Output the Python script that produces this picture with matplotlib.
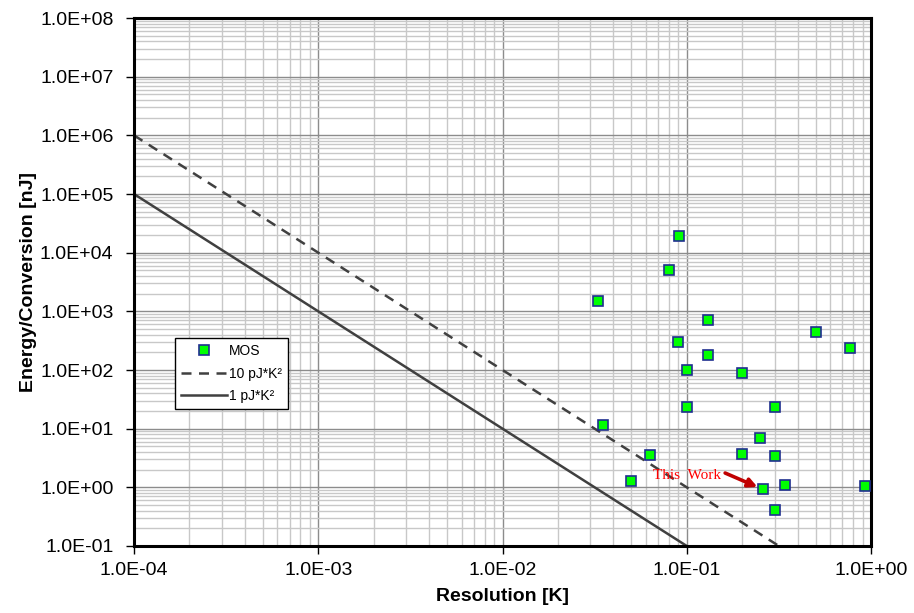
import numpy as np
import matplotlib
matplotlib.use("Agg")
import matplotlib.pyplot as plt
from matplotlib.ticker import LogLocator, FuncFormatter, NullFormatter

plt.rcParams['font.family'] = ['Liberation Sans', 'DejaVu Sans']

# MOS sensor data: resolution [K], energy per conversion [nJ]
resolution = [0.091, 0.08, 0.033, 0.13, 0.5, 0.09, 0.77, 0.13, 0.1, 0.2, 0.1,
              0.3, 0.035, 0.25, 0.063, 0.2, 0.3, 0.05, 0.34, 0.26, 0.93, 0.3]
energy = [19000, 5000, 1500, 700, 450, 300, 240, 180, 100, 90, 23,
          23, 11.5, 7, 3.5, 3.7, 3.4, 1.3, 1.1, 0.93, 1.07, 0.41]

# this work point
this_work = (0.26, 0.93)

# FoM reference lines: E = FoM / res^2  (pJ*K^2 -> nJ)
fom_10 = 10e-3
fom_1 = 1e-3
res_line = np.logspace(-4, 0, 200)

fig = plt.figure(figsize=(9.14, 6.13), dpi=100)
ax = fig.add_axes([0.1466, 0.1093, 0.8064, 0.8613])

ax.set_xscale('log')
ax.set_yscale('log')
ax.set_xlim(1e-4, 1)
ax.set_ylim(1e-1, 1e8)

ax.plot(res_line, fom_10 / res_line**2, color='#404040', lw=1.8, ls=(0, (4, 3)), label='10 pJ*K²')
ax.plot(res_line, fom_1 / res_line**2, color='#404040', lw=1.8, label='1 pJ*K²')
ax.plot(resolution, energy, ls='none', marker='s', ms=7, mfc='#00FF00', mec='#1F2F8F', mew=1.2,
        label='MOS', zorder=5)

# "This Work" label and arrow
ax.text(0.0656, 1.39, 'This  Work', color='#FF0000', fontsize=11, family='Liberation Serif')
ax.annotate('', xy=(this_work[0] * 0.93, this_work[1] * 1.09), xytext=(0.1615, 1.754),
            arrowprops=dict(arrowstyle='-|>', color='#C00000', lw=2.6, mutation_scale=13,
                            shrinkA=0, shrinkB=0))

# grid
ax.xaxis.set_major_locator(LogLocator(base=10, numticks=10))
ax.yaxis.set_major_locator(LogLocator(base=10, numticks=12))
ax.xaxis.set_minor_locator(LogLocator(base=10, subs=np.arange(2, 10), numticks=20))
ax.yaxis.set_minor_locator(LogLocator(base=10, subs=np.arange(2, 10), numticks=20))
ax.xaxis.set_minor_formatter(NullFormatter())
ax.yaxis.set_minor_formatter(NullFormatter())
ax.grid(True, which='major', color='#8C8C8C', lw=1.0)
ax.grid(True, which='minor', color='#C8C8C8', lw=1.0)
ax.set_axisbelow(True)

fmt = FuncFormatter(lambda v, p: '{:.1E}'.format(v))
ax.xaxis.set_major_formatter(fmt)
ax.yaxis.set_major_formatter(fmt)
ax.tick_params(which='major', length=5.8, width=1, labelsize=14, direction='out')
ax.tick_params(which='minor', length=0)
ax.tick_params(axis='y', pad=9)
ax.tick_params(axis='x', pad=6)

for s in ax.spines.values():
    s.set_linewidth(2.2)
    s.set_color('black')

ax.set_xlabel('Resolution [K]', fontsize=14, fontweight='bold', labelpad=6)
ax.set_ylabel('Energy/Conversion [nJ]', fontsize=14, fontweight='bold', labelpad=2)

handles, labels = ax.get_legend_handles_labels()
order = [2, 0, 1]
leg = ax.legend([handles[i] for i in order], [labels[i] for i in order],
                loc='upper left', bbox_to_anchor=(0.0556, 0.394), borderaxespad=0,
                fontsize=10, fancybox=False, edgecolor='black', framealpha=1,
                borderpad=0.45, labelspacing=0.6, handlelength=3.3, handletextpad=0.15)
leg.get_frame().set_linewidth(1.0)

fig.savefig('out.png', dpi=100)
